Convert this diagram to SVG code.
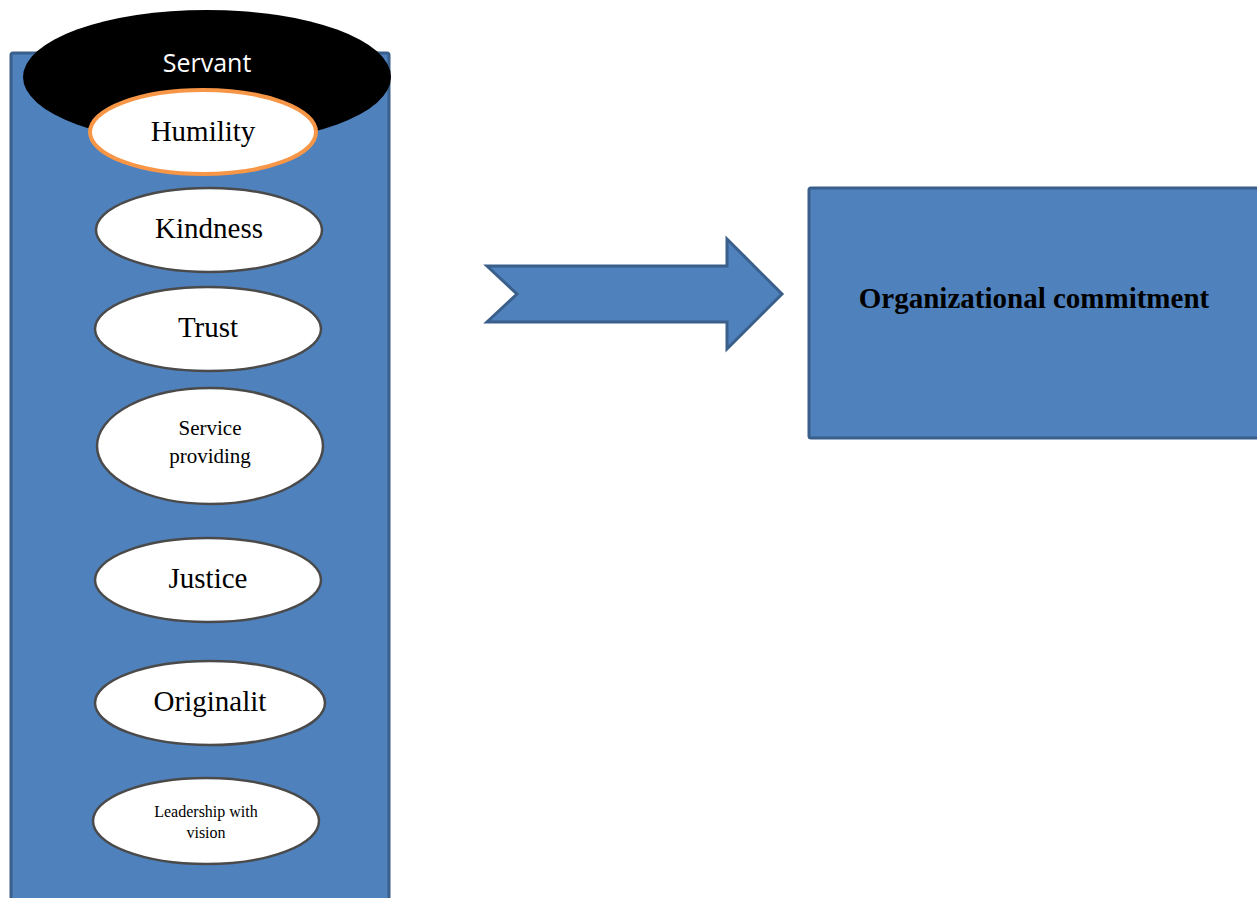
<svg xmlns="http://www.w3.org/2000/svg" width="1257" height="898" viewBox="0 0 1257 898">
  <style>
    .panel { fill: #4f81bd; stroke: #3a5f8b; stroke-width: 3; }
    .trait { fill: #ffffff; stroke: #4a4a4a; stroke-width: 2.5; }
    .lbl { font-family: "Liberation Serif", "Times New Roman", serif; fill: #000000; text-anchor: middle; }
  </style>
  <rect width="1257" height="898" fill="#ffffff"/>

  <!-- left column container -->
  <g id="servant-column">
    <rect class="panel" x="11" y="53" width="378" height="860" rx="2"/>
  </g>

  <!-- header oval -->
  <g id="servant">
    <ellipse cx="207" cy="77" rx="184" ry="67" fill="#000000"/>
    <text x="207" y="72" font-family="Open Sans, 'Liberation Sans', sans-serif" font-size="25" fill="#ffffff" text-anchor="middle">Servant</text>
  </g>

  <g id="humility">
    <ellipse cx="203" cy="132" rx="113" ry="42" fill="#ffffff" stroke="#f79646" stroke-width="4"/>
    <text class="lbl" x="203" y="141" font-size="29">Humility</text>
  </g>

  <g id="kindness">
    <ellipse class="trait" cx="209" cy="230" rx="113" ry="42"/>
    <text class="lbl" x="209" y="238" font-size="29">Kindness</text>
  </g>

  <g id="trust">
    <ellipse class="trait" cx="208" cy="329" rx="113" ry="42"/>
    <text class="lbl" x="208" y="337" font-size="29">Trust</text>
  </g>

  <g id="service-providing">
    <ellipse class="trait" cx="210" cy="446" rx="113" ry="58"/>
    <text class="lbl" x="210" y="435" font-size="21">Service</text>
    <text class="lbl" x="210" y="463" font-size="21">providing</text>
  </g>

  <g id="justice">
    <ellipse class="trait" cx="208" cy="580" rx="113" ry="42"/>
    <text class="lbl" x="208" y="588" font-size="29">Justice</text>
  </g>

  <g id="originality">
    <ellipse class="trait" cx="210" cy="703" rx="115" ry="42"/>
    <text class="lbl" x="210" y="711" font-size="29">Originalit</text>
  </g>

  <g id="leadership-with-vision">
    <ellipse class="trait" cx="206" cy="821" rx="113" ry="43"/>
    <text class="lbl" x="206" y="817" font-size="16">Leadership with</text>
    <text class="lbl" x="206" y="838" font-size="16">vision</text>
  </g>

  <!-- block arrow linking the traits to the outcome -->
  <g id="connectors">
    <polygon class="panel" points="487,266 727,266 727,239 782,294 727,349 727,322 487,322 517,294"/>
  </g>

  <g id="organizational-commitment">
    <rect class="panel" x="809" y="188" width="460" height="250" rx="2"/>
    <text class="lbl" x="1034" y="308" font-size="29" font-weight="bold">Organizational commitment</text>
  </g>
</svg>
